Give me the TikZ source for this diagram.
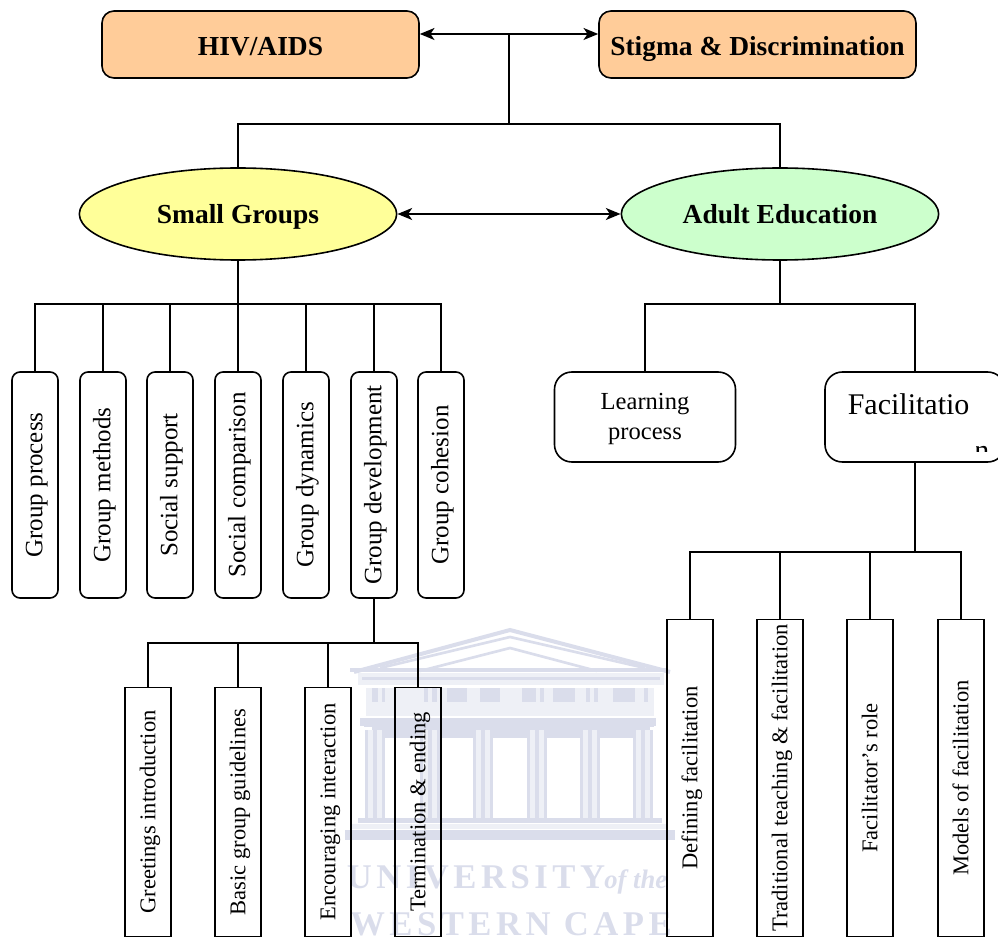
\documentclass[tikz,border=0pt]{standalone}
\usepackage{fontspec}
\setmainfont{Liberation Serif}
\newfontfamily\wmfont[LetterSpace=13]{Liberation Serif}
\usetikzlibrary{shapes.geometric,arrows.meta}
\definecolor{wm}{HTML}{DADDEB}
\definecolor{wmlight}{HTML}{EEF0F6}
\definecolor{topfill}{HTML}{FFCC99}
\newcommand{\vt}[1]{\rotatebox{90}{\rule[-8pt]{0pt}{27pt}#1}}
\tikzset{
  x=0.75pt,y=-0.75pt,
  line/.style={line width=1.2pt,black},
  twoway/.style={line,{Stealth[length=11pt,width=9pt,inset=3pt]}-{Stealth[length=11pt,width=9pt,inset=3pt]}},
  topbox/.style={draw=black,line width=1.2pt,fill=topfill,rounded corners=9pt,minimum width=237.75pt,minimum height=50.25pt,inner sep=0pt,text height=18.6pt,text depth=1.4pt,font=\bfseries\fontsize{20.6pt}{24pt}\selectfont},
  oval/.style={ellipse,draw=black,line width=1.2pt,minimum width=238pt,minimum height=69pt,inner sep=0pt,text height=17.5pt,text depth=2.5pt,font=\bfseries\fontsize{20.6pt}{24pt}\selectfont},
  tallbox/.style={draw=black,line width=1.2pt,rounded corners=6pt,minimum width=34.5pt,minimum height=169.5pt,inner sep=0pt,font=\fontsize{18.75pt}{22pt}\selectfont},
  lowbox/.style={draw=black,line width=1.2pt,minimum width=34.5pt,inner sep=0pt,font=\fontsize{16.9pt}{20pt}\selectfont},
  midbox/.style={draw=black,line width=1.2pt,rounded corners=13pt,minimum width=135.75pt,minimum height=67.5pt,inner sep=0pt,align=center},
  wmline/.style={draw=wm,line width=3pt},
  wmtext/.style={text=wm,anchor=base,inner sep=0pt,font=\wmfont\bfseries\fontsize{26pt}{28pt}\selectfont},
}
\begin{document}
\begin{tikzpicture}
\useasboundingbox (0,0) rectangle (998,937);
% watermark
\draw[wmline,line width=3pt,line join=miter] (354,672) -- (510,630) -- (670,672);
\draw[wmline,line width=2pt] (380,668) -- (510,637) -- (645,668);
\draw[wmline,line width=2pt] (420,671) -- (510,648) -- (597,671);
\fill[wm] (350,668) rectangle (668,672);
\fill[wmlight] (358,673) rectangle (664,685);
\fill[wm] (362,677) rectangle (660,680);
\fill[wmlight] (366,688) rectangle (654,716);
\foreach \a/\b in {372/378,382/385,424/428,432/437,447/467,480/500,522/536,540/544,553/575,586/590,594/598,613/635,644/648}{\fill[wm] (\a,688) rectangle (\b,702);}
\fill[wm] (360,718) rectangle (656,726);
\fill[wm] (372,726) rectangle (650,738);
\foreach \c in {375,430,483,537,590,643}{
  \fill[wm] (\c-11,722) rectangle (\c+11,727);
  \fill[wmlight] (\c-10,730) rectangle (\c+10,818);
  \fill[wm] (\c-10,730) rectangle (\c-7,818);
  \fill[wm] (\c-2,730) rectangle (\c+2,818);
  \fill[wm] (\c+7,730) rectangle (\c+10,818);
}
\fill[wm] (358,818) rectangle (662,823);
\fill[wmlight] (352,824) rectangle (668,829);
\fill[wm] (345,830) rectangle (675,840);
\node[wmtext] (wma) at (476,888) {UNIVERSITY};
\node[text=wm,anchor=base west,inner sep=0pt,font=\itshape\bfseries\fontsize{20pt}{22pt}\selectfont] (wmc) at (604,888) {of the};
\node[wmtext] (wmb) at (511,935) {WESTERN CAPE};
% top row
\node[topbox] (hiv) at (260.5,44.5) {HIV/AIDS};
\node[topbox] (stigma) at (757.5,44.5) {Stigma \& Discrimination};
\node[oval,fill={rgb,255:red,255;green,255;blue,153}] (sg) at (238,214) {Small Groups};
\node[oval,fill={rgb,255:red,204;green,255;blue,204}] (ae) at (780,214) {Adult Education};
% small group children
\node[tallbox] (g1) at (35,485) {\vt{Group process}};
\node[tallbox] (g2) at (103,485) {\vt{Group methods}};
\node[tallbox] (g3) at (170,485) {\vt{Social support}};
\node[tallbox] (g4) at (238,485) {\vt{Social comparison}};
\node[tallbox] (g5) at (306,485) {\vt{Group dynamics}};
\node[tallbox] (g6) at (374,485) {\vt{Group development}};
\node[tallbox] (g7) at (441,485) {\vt{Group cohesion}};
% adult education children
\node[midbox,font=\fontsize{18.4pt}{22.4pt}\selectfont] (lp) at (645,417) {\rule{0pt}{15.4pt}Learning\\process};
\node[midbox,minimum width=135pt] (fa) at (915,417) {};
\node[anchor=base west,inner sep=0pt,font=\fontsize{22.5pt}{26pt}\selectfont] (fatext) at (847.5,414) {Facilitatio};
\begin{scope}
\clip (976,440) rectangle (998,451);
\node[anchor=base west,inner sep=0pt,font=\fontsize{22.5pt}{26pt}\selectfont] (fan) at (974,460) {n};
\end{scope}
% lower left
\node[lowbox,minimum height=186.75pt] (s1) at (148,812) {\vt{Greetings introduction}};
\node[lowbox,minimum height=186.75pt] (s2) at (238,812) {\vt{Basic group guidelines}};
\node[lowbox,minimum height=186.75pt] (s3) at (328,812) {\vt{Encouraging interaction}};
\node[lowbox,minimum height=186.75pt] (s4) at (418,812) {\vt{Termination \& ending}};
% lower right
\node[lowbox,minimum height=237.75pt] (f1) at (690,778) {\vt{Defining facilitation}};
\node[lowbox,minimum height=237.75pt] (f2) at (780,778) {\vt{Traditional teaching \& facilitation}};
\node[lowbox,minimum height=237.75pt] (f3) at (870,778) {\vt{Facilitator’s role}};
\node[lowbox,minimum height=237.75pt] (f4) at (961,778) {\vt{Models of facilitation}};
% junctions
\coordinate (j0) at (509,34);
\coordinate (j1) at (509,124);
\coordinate (j2) at (238,304);
\coordinate (j3) at (780,304);
\coordinate (j4) at (915,552);
\coordinate (j5) at (374,643);
% connectors
\draw[twoway] (hiv.east |- j0) -- (stigma.west |- j0);
\draw[line] (j0) -- (j1);
\draw[line] (sg.north) |- (j1);
\draw[line] (ae.north) |- (j1);
\draw[twoway] (sg) -- (ae);
\draw[line] (sg.south) -- (j2);
\foreach \n in {g1,g2,g3,g4,g5,g6,g7}{\draw[line] (\n.north) |- (j2);}
\draw[line] (ae.south) -- (j3);
\draw[line] (lp.north) |- (j3);
\draw[line] (fa.north) |- (j3);
\draw[line] (fa.south) -- (j4);
\foreach \n in {f1,f2,f3,f4}{\draw[line] (\n.north) |- (j4);}
\draw[line] (g6.south) -- (j5);
\foreach \n in {s1,s2,s3,s4}{\draw[line] (\n.north) |- (j5);}
\end{tikzpicture}
\end{document}
